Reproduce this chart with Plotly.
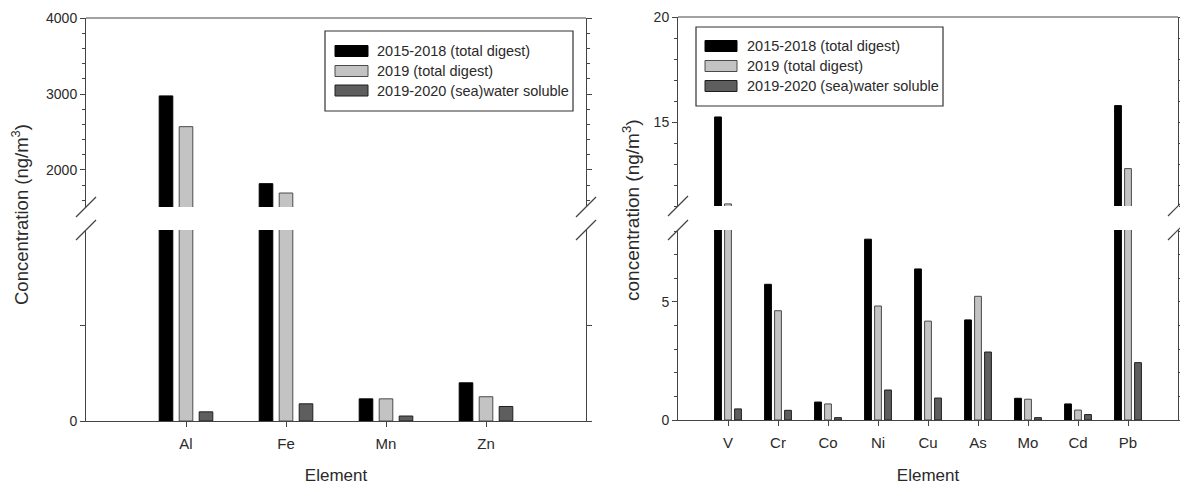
import plotly.graph_objects as go

# ---------------- data ----------------
left_categories = ["Al", "Fe", "Mn", "Zn"]
left_total_2015_2018 = [2975, 1820, 116, 200]
left_total_2019 = [2570, 1697, 116, 127]
left_soluble_2019_2020 = [48, 90, 26, 76]

right_categories = ["V", "Cr", "Co", "Ni", "Cu", "As", "Mo", "Cd", "Pb"]
right_total_2015_2018 = [15.24, 5.75, 0.76, 7.66, 6.40, 4.24, 0.92, 0.68, 15.78]
right_total_2019 = [11.1, 4.63, 0.68, 4.83, 4.19, 5.24, 0.88, 0.42, 12.78]
right_soluble_2019_2020 = [0.47, 0.41, 0.10, 1.27, 0.93, 2.88, 0.10, 0.23, 2.43]

series_names = ["2015-2018 (total digest)", "2019 (total digest)", "2019-2020 (sea)water soluble"]

# ---------------- style ----------------
W, H = 1180, 485
FONT = "Liberation Sans, Arial, sans-serif"
fills = ["#000000", "#c3c3c3", "#5e5e5e"]
edges = ["#000000", "#4a4a4a", "#1e1e1e"]
AX = "#444444"
TXT = "#2a2a2a"


def px_x(p):
    return p / W


def px_y(p):
    return 1 - p / H


fig = go.Figure()

left_series = [left_total_2015_2018, left_total_2019, left_soluble_2019_2020]
right_series = [right_total_2015_2018, right_total_2019, right_soluble_2019_2020]

for i, vals in enumerate(left_series):
    for ya in ["y", "y2"]:
        fig.add_trace(go.Bar(x=left_categories, y=vals, name=series_names[i], xaxis="x", yaxis=ya,
                             marker=dict(color=fills[i], line=dict(color=edges[i], width=1)),
                             showlegend=False))
for i, vals in enumerate(right_series):
    for ya in ["y3", "y4"]:
        fig.add_trace(go.Bar(x=right_categories, y=vals, name=series_names[i], xaxis="x2", yaxis=ya,
                             marker=dict(color=fills[i], line=dict(color=edges[i], width=1)),
                             showlegend=False))

tickfont = dict(family=FONT, size=14, color=TXT)
yax_common = dict(showline=True, linecolor=AX, linewidth=1, mirror="ticks", ticks="outside",
                  ticklen=5, tickcolor=AX, showgrid=False, zeroline=False, tickfont=tickfont,
                  automargin=False)
xax_common = dict(showline=True, linecolor=AX, linewidth=1, ticks="outside", ticklen=5, tickcolor=AX,
                  showgrid=False, zeroline=False, tickfont=dict(family=FONT, size=15, color=TXT),
                  automargin=False, ticklabelstandoff=4,
                  title=dict(text="Element", font=dict(family=FONT, size=17, color=TXT), standoff=20))

fig.update_layout(
    width=W, height=H,
    margin=dict(l=0, r=0, t=0, b=0, autoexpand=False),
    paper_bgcolor="white", plot_bgcolor="white",
    barmode="group", bargap=0.4, bargroupgap=0.32,
    showlegend=False,
    font=dict(family=FONT, color=TXT),
    xaxis=dict(domain=[px_x(86), px_x(586)], anchor="y", type="category", range=[-1, 4], **xax_common),
    yaxis=dict(domain=[px_y(421), px_y(230)], anchor="x", range=[0, 1000], tickvals=[0],
               minor=dict(tickvals=[500], ticks="outside", ticklen=5, tickcolor=AX), **yax_common),
    yaxis2=dict(domain=[px_y(207), px_y(18)], anchor="x", range=[1513, 4000], dtick=1000, tick0=0,
                minor=dict(dtick=200, ticks="outside", ticklen=3, tickcolor=AX), **yax_common),
    xaxis2=dict(domain=[px_x(678), px_x(1178)], anchor="y3", type="category", range=[-1, 9], **xax_common),
    yaxis3=dict(domain=[px_y(420), px_y(230)], anchor="x2", range=[0, 8.05], dtick=5, tick0=0,
                minor=dict(dtick=1, ticks="outside", ticklen=3, tickcolor=AX), **yax_common),
    yaxis4=dict(domain=[px_y(206), px_y(17)], anchor="x2", range=[11, 20], dtick=5, tick0=0,
                minor=dict(dtick=1, ticks="outside", ticklen=3, tickcolor=AX), **yax_common),
)

shapes = []
# top frame lines of the upper segments
for xr, yr in [("x domain", "y2 domain"), ("x2 domain", "y4 domain")]:
    shapes.append(dict(type="line", xref=xr, yref=yr, x0=0, x1=1, y0=1, y1=1,
                       line=dict(color=AX, width=1)))

# axis-break marks
for xr, yup, ylo in [("x domain", "y2 domain", "y domain"), ("x2 domain", "y4 domain", "y3 domain")]:
    for xa in [0, 1]:
        for yr, ya in [(yup, 0), (ylo, 1)]:
            shapes.append(dict(type="line", xref=xr, yref=yr, xsizemode="pixel", ysizemode="pixel",
                               xanchor=xa, yanchor=ya, x0=-10, x1=10, y0=-10, y1=10,
                               line=dict(color=AX, width=1.2)))

annotations = []
# y-axis titles spanning both segments
annotations.append(dict(text="Concentration (ng/m<sup>3</sup>)", xref="paper", yref="paper",
                        x=px_x(20), y=px_y(215), xanchor="center", yanchor="middle",
                        textangle=-90, showarrow=False,
                        font=dict(family=FONT, size=18.5, color=TXT)))
annotations.append(dict(text="concentration (ng/m<sup>3</sup>)", xref="paper", yref="paper",
                        x=px_x(631), y=px_y(210), xanchor="center", yanchor="middle",
                        textangle=-90, showarrow=False,
                        font=dict(family=FONT, size=19, color=TXT)))

# manual legends (wide swatches, boxed)
legends = [
    dict(box=(325, 573, 31, 111), sw=(335, 368), rows=[51, 71, 90.5], tx=375),
    dict(box=(696, 943, 27, 106), sw=(705, 737), rows=[46, 66, 86], tx=745),
]
for lg in legends:
    bx0, bx1, by0, by1 = lg["box"]
    shapes.append(dict(type="rect", xref="paper", yref="paper", x0=px_x(bx0), x1=px_x(bx1),
                       y0=px_y(by1), y1=px_y(by0), line=dict(color="#333333", width=1.2),
                       fillcolor="white", layer="above"))
    for i, ry in enumerate(lg["rows"]):
        shapes.append(dict(type="rect", xref="paper", yref="paper", x0=px_x(lg["sw"][0]), x1=px_x(lg["sw"][1]),
                           y0=px_y(ry + 5.5), y1=px_y(ry - 5.5), fillcolor=fills[i],
                           line=dict(color=edges[i], width=1), layer="above"))
        annotations.append(dict(text=series_names[i], xref="paper", yref="paper", x=px_x(lg["tx"]),
                                y=px_y(ry), xanchor="left", yanchor="middle", showarrow=False,
                                font=dict(family=FONT, size=14.5, color=TXT)))

fig.update_layout(shapes=shapes, annotations=annotations)

fig.write_html("out.html", config=dict(displayModeBar=False),
               post_script="document.body.style.margin='0';document.body.style.overflow='hidden';")
